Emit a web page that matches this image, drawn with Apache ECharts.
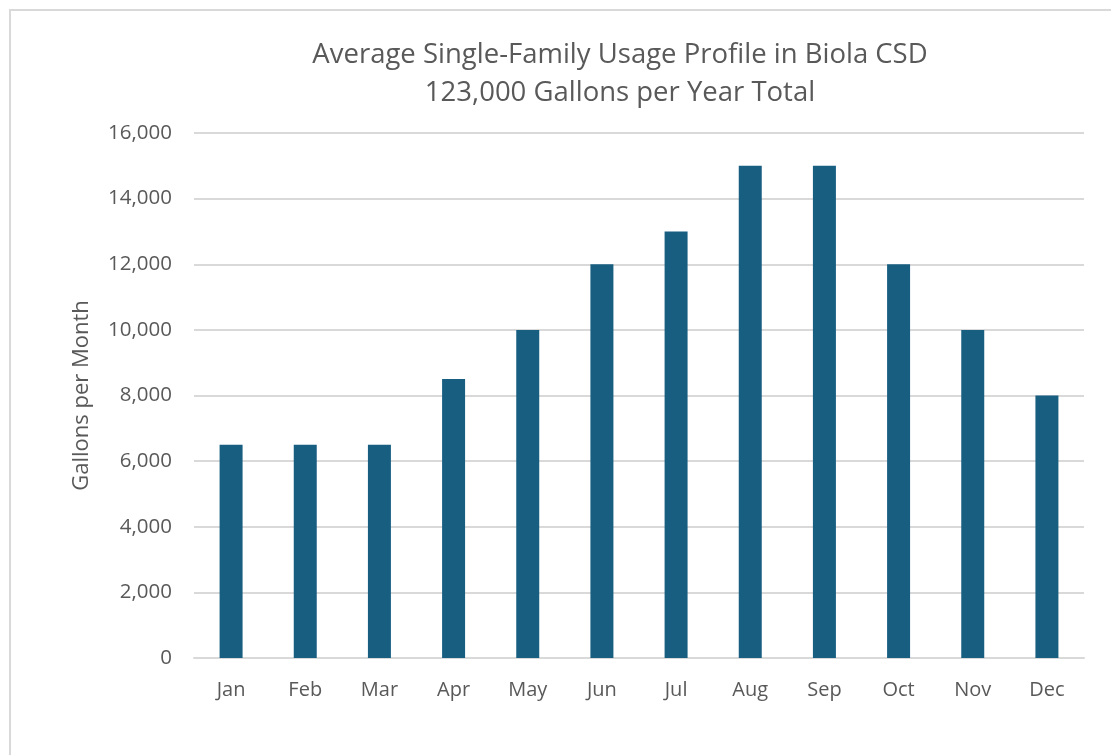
<!DOCTYPE html>
<html>
<head>
<meta charset="utf-8">
<script src="https://cdn.jsdelivr.net/npm/echarts@6/dist/echarts.min.js"></script>
<style>
  html, body { margin: 0; padding: 0; background: #fff; }
  #frame { position: absolute; left: 9px; top: 9px; width: 1102px; height: 746px; border-left: 2px solid #d9d9d9; border-top: 2px solid #d9d9d9; box-sizing: border-box; }
  #chart { position: absolute; left: 0; top: 0; width: 1111px; height: 755px; }
</style>
</head>
<body>
<div id="frame"></div>
<div id="chart"></div>
<script>
const titleLines = ['Average Single-Family Usage Profile in Biola CSD', '123,000 Gallons per Year Total'];
const yAxisName = 'Gallons per Month';
const months = ['Jan', 'Feb', 'Mar', 'Apr', 'May', 'Jun', 'Jul', 'Aug', 'Sep', 'Oct', 'Nov', 'Dec'];
const usage = [6500, 6500, 6500, 8500, 10000, 12000, 13000, 15000, 15000, 12000, 10000, 8000];

const FONT = '"Open Sans", sans-serif';
const chart = echarts.init(document.getElementById('chart'), null, { renderer: 'canvas' });
chart.setOption({
  animation: false,
  backgroundColor: 'transparent',
  title: {
    text: titleLines.join('\n'),
    left: 615,
    top: 31,
    textAlign: 'center',
    textStyle: { fontFamily: FONT, fontSize: 27.5, fontWeight: 'normal', color: '#595959', lineHeight: 38 }
  },
  grid: { left: 194, right: 27, top: 133, bottom: 97, containLabel: false },
  xAxis: {
    type: 'category',
    data: months,
    axisLine: { show: true, lineStyle: { color: '#d9d9d9', width: 2 } },
    axisTick: { show: false },
    axisLabel: { fontFamily: FONT, fontSize: 20, color: '#595959', margin: 22 }
  },
  yAxis: {
    type: 'value',
    min: 0,
    max: 16000,
    interval: 2000,
    name: yAxisName,
    nameLocation: 'middle',
    nameGap: 101,
    nameTextStyle: { fontFamily: FONT, fontSize: 22, color: '#595959' },
    axisLine: { show: false },
    axisTick: { show: false },
    axisLabel: {
      fontFamily: FONT, fontSize: 20.5, color: '#595959', margin: 22,
      formatter: v => v.toLocaleString('en-US')
    },
    splitLine: { lineStyle: { color: '#d9d9d9', width: 2 } }
  },
  series: [{
    type: 'bar',
    data: usage,
    barWidth: '31%',
    itemStyle: { color: '#175e81' }
  }]
});
</script>
</body>
</html>
